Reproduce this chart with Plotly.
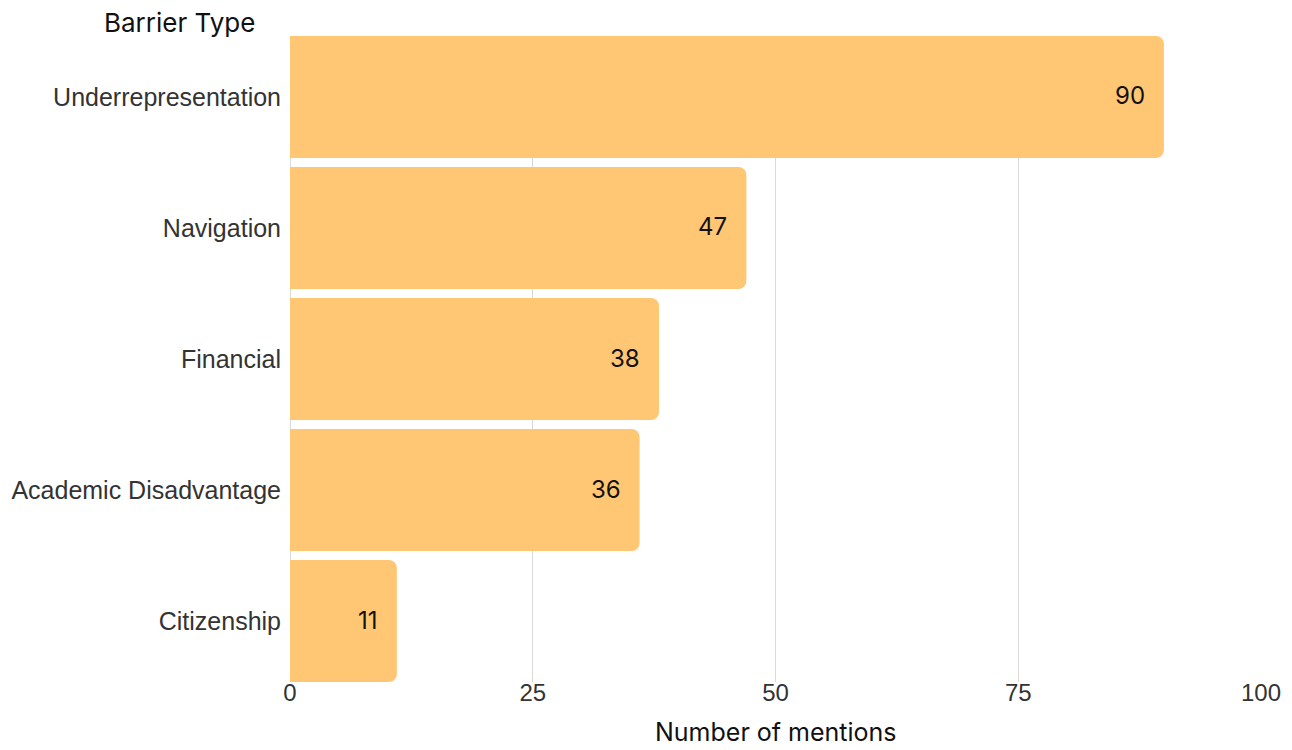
import plotly.graph_objects as go

categories = ["Underrepresentation", "Navigation", "Financial", "Academic Disadvantage", "Citizenship"]
mentions = [90, 47, 38, 36, 11]
x_ticks = [0, 25, 50, 75, 100]

bar_color = "#FFC673"
title_font = "Inter, Lato, sans-serif"
tick_font = "Liberation Sans, Arial, sans-serif"
gap = 0.069

fig = go.Figure()
fig.add_trace(go.Bar(
    y=categories,
    x=mentions,
    orientation="h",
    marker=dict(color=bar_color, line=dict(width=0)),
    hoverinfo="x+y",
))

for c, v in zip(categories, mentions):
    fig.add_annotation(
        x=v, y=c, xref="x", yref="y",
        text=str(v), showarrow=False,
        xanchor="right", xshift=-17, yshift=1,
        font=dict(family=title_font, size=24, color="#111111"),
    )

fig.add_annotation(
    xref="paper", yref="paper",
    x=-0.1133, y=1.0, yanchor="middle", xanchor="center", yshift=14,
    text="Barrier Type", showarrow=False,
    font=dict(family=title_font, size=26, color="#111111"),
)
fig.add_annotation(
    xref="paper", yref="paper",
    x=0.5, y=0.0, yanchor="middle", xanchor="center", yshift=-50,
    text="Number of mentions", showarrow=False,
    font=dict(family=title_font, size=25, color="#111111"),
)

fig.update_layout(
    width=1284, height=742,
    margin=dict(l=282, r=31, t=28, b=68),
    paper_bgcolor="white",
    plot_bgcolor="white",
    bargap=gap,
    barcornerradius=8,
    showlegend=False,
    xaxis=dict(
        range=[0, 100],
        tickvals=x_ticks,
        automargin=False,
        showgrid=True,
        gridcolor="#D9D9D9",
        gridwidth=1,
        zeroline=True,
        zerolinecolor="#D9D9D9",
        zerolinewidth=1,
        showline=False,
        ticks="",
        ticklabelstandoff=-6,
        tickfont=dict(family=tick_font, size=24, color="#333333"),
    ),
    yaxis=dict(
        categoryorder="array",
        categoryarray=categories[::-1],
        range=[-0.5 + gap / 2, len(categories) - 0.5 - gap / 2],
        automargin=False,
        showgrid=False,
        ticks="",
        ticklabelstandoff=8,
        tickfont=dict(family=tick_font, size=25, color="#333333"),
    ),
)

fig.write_html("out.html")
